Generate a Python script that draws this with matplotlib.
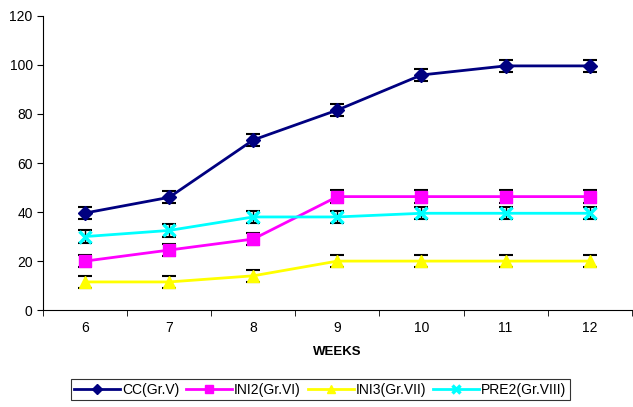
import numpy as np
import matplotlib.pyplot as plt

plt.rcParams['font.family'] = ['Liberation Sans', 'DejaVu Sans']

weeks = [6, 7, 8, 9, 10, 11, 12]
cc = [39.6, 46.0, 69.4, 81.6, 95.9, 99.6, 99.6]
ini2 = [20.0, 24.5, 29.0, 46.3, 46.3, 46.3, 46.3]
ini3 = [11.5, 11.5, 14.0, 20.0, 20.0, 20.0, 20.0]
pre2 = [30.0, 32.5, 38.0, 38.0, 39.5, 39.5, 39.5]
err = [2.5, 2.5, 2.5, 2.5, 2.5, 2.5, 2.5]

series = [
    ("CC(Gr.V)", cc, "#000080", "D", 7),
    ("INI2(Gr.VI)", ini2, "#FF00FF", "s", 8),
    ("INI3(Gr.VII)", ini3, "#FFFF00", "^", 8),
    ("PRE2(Gr.VIII)", pre2, "#00FFFF", "x", 8),
]

fig = plt.figure(figsize=(6.33, 4.07), dpi=100)
ax = fig.add_axes([0.068, 0.238, 0.93, 0.723])

x = np.arange(len(weeks))
for label, vals, col, mk, ms in series:
    ax.errorbar(x, vals, yerr=err, fmt='none', ecolor='black', elinewidth=1,
                capsize=5, capthick=1.5, zorder=2)
    ax.plot(x, vals, color=col, marker=mk, markersize=ms, linewidth=2,
            markeredgewidth=2.5 if mk == 'x' else 1, label=label, zorder=3)

ax.set_xlim(-0.5, len(weeks) - 0.5)
ax.set_ylim(0, 120)
ax.set_yticks(range(0, 121, 20))
ax.set_xticks(x)
ax.set_xticklabels(weeks)
ax.set_xticks(np.arange(-0.5, len(weeks)), minor=True)
ax.tick_params(axis='x', which='major', length=0, pad=8, labelsize=10)
ax.tick_params(axis='x', which='minor', length=4, direction='out')
ax.tick_params(axis='y', length=4, labelsize=10)
for s in ['top', 'right']:
    ax.spines[s].set_visible(False)
ax.set_xlabel("WEEKS", fontweight='bold', fontsize=9.5, labelpad=8)

leg = fig.legend(loc='lower center', bbox_to_anchor=(0.506, 0.0), ncol=4,
                 frameon=True, fancybox=False, edgecolor='black',
                 fontsize=10, handlelength=3.3, handletextpad=0.15,
                 columnspacing=0.5, borderpad=0.25, markerscale=0.7)
leg.get_frame().set_linewidth(0.8)

fig.savefig("out.png", dpi=100)
